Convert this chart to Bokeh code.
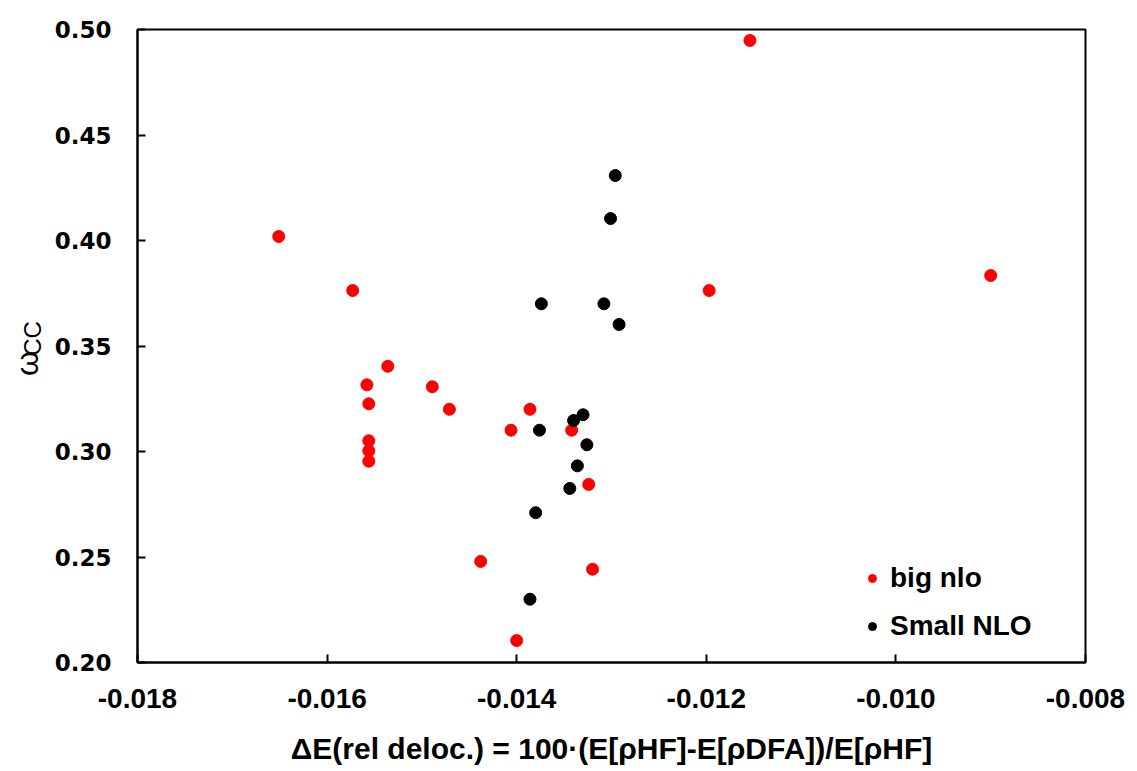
import math
from bokeh.plotting import figure
from bokeh.models import Range1d, FixedTicker, PrintfTickFormatter, Label, Legend, LegendItem
from bokeh.embed import file_html
from bokeh.resources import INLINE

big_x = [-0.01154, -0.01651, -0.01573, -0.01197, -0.00900, -0.01536, -0.01558, -0.01489,
         -0.01556, -0.01471, -0.01386, -0.01406, -0.01342, -0.01556, -0.01556, -0.01556,
         -0.01324, -0.01438, -0.01320, -0.01400]
big_y = [0.4948, 0.4019, 0.3763, 0.3763, 0.3834, 0.3404, 0.3316, 0.3307,
         0.3226, 0.3200, 0.3200, 0.3101, 0.3101, 0.3051, 0.3003, 0.2954,
         0.2844, 0.2479, 0.2442, 0.2104]

small_x = [-0.01296, -0.01301, -0.01374, -0.01308, -0.01292, -0.01330, -0.01340, -0.01376,
           -0.01326, -0.01336, -0.01344, -0.01380, -0.01386]
small_y = [0.4308, 0.4104, 0.3700, 0.3700, 0.3602, 0.3174, 0.3147, 0.3101,
           0.3032, 0.2932, 0.2825, 0.2710, 0.2300]

x_ticks = [-0.018, -0.016, -0.014, -0.012, -0.010, -0.008]
y_ticks = [0.20, 0.25, 0.30, 0.35, 0.40, 0.45, 0.50]

x_title = "\u0394E(rel deloc.) = 100\u00b7(E[\u03c1HF]-E[\u03c1DFA])/E[\u03c1HF]"

p = figure(width=1137, height=771, output_backend="svg", toolbar_location=None,
           x_range=Range1d(-0.018, -0.008), y_range=Range1d(0.20, 0.50),
           min_border_left=137, min_border_right=52, min_border_top=29, min_border_bottom=109)
p.grid.visible = False
p.background_fill_color = "white"
p.border_fill_color = "white"
p.outline_line_color = "black"
p.outline_line_width = 2

p.xaxis.ticker = FixedTicker(ticks=x_ticks)
p.yaxis.ticker = FixedTicker(ticks=y_ticks)
p.xaxis.formatter = PrintfTickFormatter(format="%.3f")
p.yaxis.formatter = PrintfTickFormatter(format="%.2f")
for ax in (p.xaxis[0], p.yaxis[0]):
    ax.axis_line_color = "black"
    ax.axis_line_width = 2
    ax.major_tick_in = 8
    ax.major_tick_out = 0
    ax.major_tick_line_width = 2
    ax.minor_tick_line_color = None
    ax.major_label_text_color = "black"
    ax.major_label_text_font_style = "bold"

p.yaxis.major_label_text_font = "DejaVu Sans"
p.yaxis.major_label_text_font_size = "23px"
p.yaxis.major_label_standoff = 26
p.xaxis.major_label_text_font = "Liberation Sans"
p.xaxis.major_label_text_font_size = "28px"
p.xaxis.major_label_standoff = 26

p.xaxis.axis_label = x_title
p.xaxis.axis_label_text_font = "Liberation Sans"
p.xaxis.axis_label_text_font_size = "30px"
p.xaxis.axis_label_text_font_style = "bold"
p.xaxis.axis_label_text_color = "black"
p.xaxis.axis_label_standoff = 21

r_big = p.scatter(big_x, big_y, size=12, marker="circle", fill_color="#FF0000", line_color="#FF0000")
r_small = p.scatter(small_x, small_y, size=12, marker="circle", fill_color="black", line_color="black")

legend = Legend(items=[LegendItem(label="big nlo", renderers=[r_big]),
                       LegendItem(label="Small NLO", renderers=[r_small])],
                location=(725, 20), orientation="vertical")
legend.border_line_color = None
legend.background_fill_alpha = 0
legend.padding = 0
legend.margin = 0
legend.spacing = 16
legend.glyph_width = 20
legend.glyph_height = 24
legend.label_height = 24
legend.label_standoff = 8
legend.label_text_font = "Liberation Sans"
legend.label_text_font_style = "bold"
legend.label_text_font_size = "28px"
legend.label_text_color = "black"
legend.label_text_baseline = "middle"
p.add_layout(legend, "center")

# y-axis title: omega (left side panel) with subscript CC (right side panel,
# screen units relative to that panel, so it can sit next to the omega)
p.add_layout(Label(x=11, y=299, x_units="screen", y_units="screen", text="\u03c9",
                   angle=math.pi / 2, text_align="center", text_baseline="alphabetic",
                   text_font="Liberation Sans", text_font_size="32px", text_color="black"), "left")
p.add_layout(Label(x=-1053, y=324, x_units="screen", y_units="screen", text="CC",
                   angle=math.pi / 2, text_align="center", text_baseline="alphabetic",
                   text_font="Liberation Sans", text_font_size="24px", text_color="black"), "right")

open("out.html", "w").write(file_html(p, INLINE))
